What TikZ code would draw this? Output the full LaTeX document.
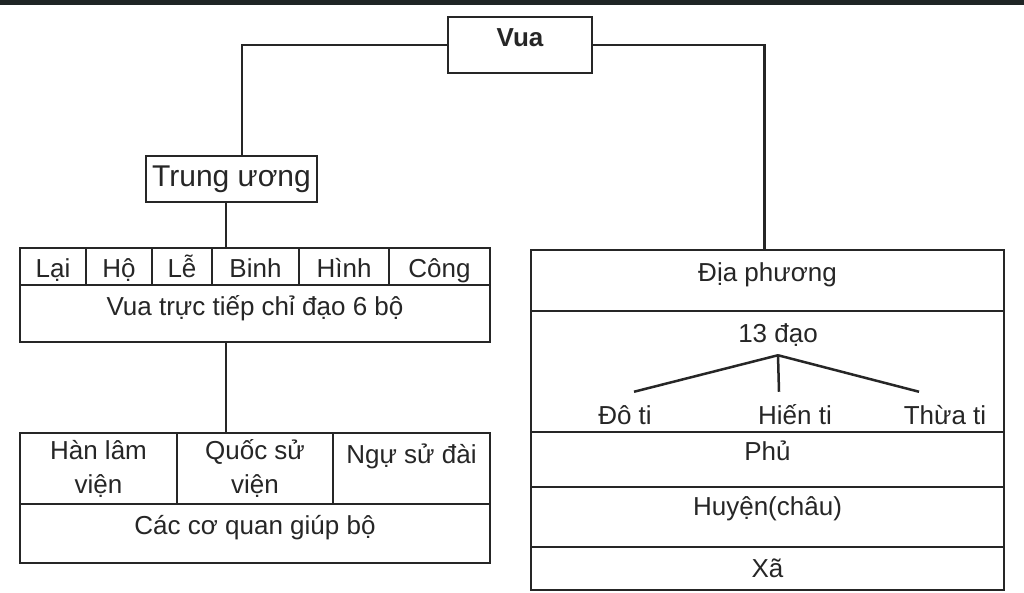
\documentclass[tikz,border=0pt]{standalone}
\usepackage{fontspec}
\setmainfont{Liberation Sans}
\definecolor{band}{HTML}{1F2525}

\begin{document}
\begin{tikzpicture}[x=1pt,y=-1pt,line width=2.5pt,
    every node/.style={text=black!85, font=\fontsize{26}{34}\selectfont},
    frame/.style={draw=black!85, inner sep=0pt},
    cell/.style={frame, text height=19pt, text depth=6pt},
    lift/.style={text depth=#1}]
\useasboundingbox[fill=white] (0,0) rectangle (1024,593);
\fill[band] (0,0) rectangle (1024,5);

% top
\node[cell, minimum width=144pt, minimum height=56pt, lift=16pt,
      font=\bfseries\fontsize{26}{34}\selectfont] (vua) at (520,45) {Vua};
\node[cell, minimum width=171pt, minimum height=46pt, text height=22pt,
      font=\fontsize{30}{36}\selectfont] (tw) at (231.5,179) {Trung ương};

% 6 bo
\node[cell, minimum width=66pt, minimum height=37pt, text height=22pt, lift=0pt] (lai) at (53,266.5) {Lại};
\node[cell, minimum width=66pt, minimum height=37pt, text height=22pt, lift=0pt] (ho) at (119,266.5) {Hộ};
\node[cell, minimum width=60pt, minimum height=37pt, text height=22pt, lift=0pt] (le) at (182,266.5) {Lễ};
\node[cell, minimum width=87pt, minimum height=37pt, text height=22pt, lift=0pt] (binh) at (255.5,266.5) {Binh};
\node[cell, minimum width=90pt, minimum height=37pt, text height=22pt, lift=0pt] (hinh) at (344,266.5) {Hình};
\node[cell, minimum width=101pt, minimum height=37pt, text height=22pt, lift=0pt] (cong) at (439.5,266.5) {Công};
\node[cell, minimum width=470pt, minimum height=57pt, lift=16pt] (chidao) at (255,313.5) {Vua trực tiếp chỉ đạo 6 bộ};

% co quan giup bo
\node[frame, minimum width=157pt, minimum height=71pt, align=center] (hlv) at (98.5,468.5) {Hàn lâm\\viện};
\node[frame, minimum width=156pt, minimum height=71pt, align=center] (qsv) at (255,468.5) {Quốc sử\\viện};
\node[cell, minimum width=157pt, minimum height=71pt, lift=29pt] (nsd) at (411.5,468.5) {Ngự sử đài};
\node[cell, minimum width=470pt, minimum height=59pt, lift=18pt] (giupbo) at (255,533.5) {Các cơ quan giúp bộ};

% dia phuong
\node[cell, minimum width=473pt, minimum height=61pt, lift=16pt] (dp) at (767.5,280.5) {Địa phương};
\node[frame, minimum width=473pt, minimum height=121pt] (daorow) at (767.5,371.5) {};
\node[cell, minimum width=473pt, minimum height=55pt, lift=18pt] (phu) at (767.5,459.5) {Phủ};
\node[cell, minimum width=473pt, minimum height=60pt, lift=22pt] (huyen) at (767.5,517) {Huyện(châu)};
\node[cell, minimum width=473pt, minimum height=43pt, lift=2pt] (xa) at (767.5,568.5) {Xã};

\node[anchor=base, inner ysep=6pt, text height=19pt, text depth=6pt] (dao) at (778,342) {13 đạo};
\node[anchor=base, inner ysep=12pt, text height=19pt] (doti) at (625,424) {Đô ti};
\node[anchor=base, inner ysep=12pt, text height=19pt] (hien) at (795,424) {Hiến ti};
\node[anchor=base, inner ysep=12pt, text height=19pt] (thua) at (945,424) {Thừa ti};

% connectors
\coordinate (spine) at (226,0);
\draw[black!85] (vua.west) -| ([xshift=10.5pt]tw.north);
\draw[black!85] (vua.east) -| ([xshift=-3pt]dp.north);
\draw[black!85] (spine |- tw.south) -- (spine |- binh.north);
\draw[black!85] (spine |- chidao.south) -- (spine |- qsv.north);
\draw[black!85] (dao.south) -- ([xshift=9pt]doti.north);
\draw[black!85] (dao.south) -- ([xshift=-16pt]hien.north);
\draw[black!85] (dao.south) -- ([xshift=-26pt]thua.north);
\end{tikzpicture}
\end{document}
